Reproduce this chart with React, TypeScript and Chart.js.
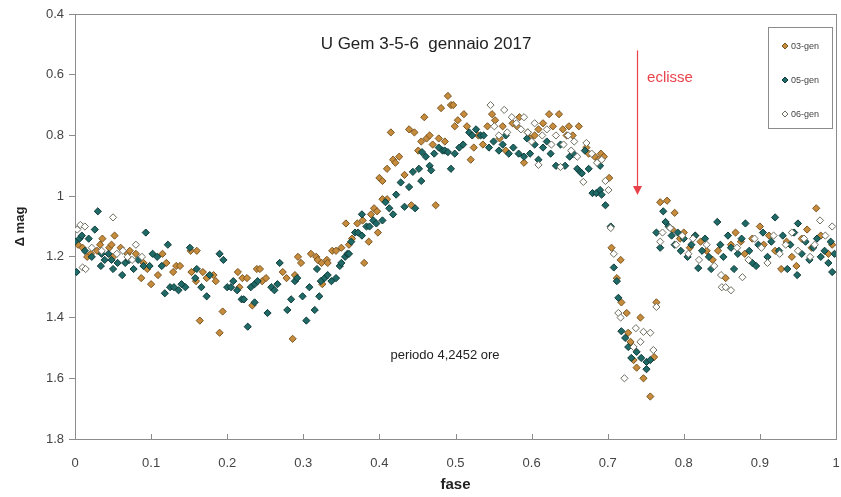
import React, { useEffect, useRef } from "react";
import { Chart, registerables } from "chart.js";

Chart.register(...registerables);

// ---- tick labels ----
const xTicks = [0, 0.1, 0.2, 0.3, 0.4, 0.5, 0.6, 0.7, 0.8, 0.9, 1];
const yTicks = [0.4, 0.6, 0.8, 1, 1.2, 1.4, 1.6, 1.8];

// ---- texts ----
const seriesNames = ["03-gen", "05-gen", "06-gen"];
const chartTitle = "U Gem 3-5-6  gennaio 2017";
const periodNote = "periodo 4,2452 ore";
const eclipseLabel = "eclisse";
const xTitle = "fase";
const yTitle = "\u0394 mag";

// eclipse arrow (fase, mag from -> to)
const eclipsePhase = 0.739;
const eclipseFrom = 0.52;
const eclipseTo = 0.996;

// ---- series: [fase, delta mag] ----
const gen03: [number, number][] = [
  [0.004, 1.16], [0.010, 1.17], [0.016, 1.20], [0.021, 1.19], [0.029, 1.18], [0.033, 1.16], [0.036, 1.14],
  [0.045, 1.17], [0.048, 1.16], [0.052, 1.13], [0.050, 1.20], [0.060, 1.17], [0.069, 1.19], [0.072, 1.18],
  [0.080, 1.19], [0.087, 1.27], [0.095, 1.24], [0.100, 1.29], [0.090, 1.22],
  [0.109, 1.26], [0.115, 1.19], [0.120, 1.22], [0.129, 1.25], [0.133, 1.23], [0.138, 1.23], [0.152, 1.18],
  [0.160, 1.18], [0.153, 1.25], [0.159, 1.28], [0.164, 1.41], [0.168, 1.25], [0.173, 1.27], [0.182, 1.26],
  [0.185, 1.28], [0.190, 1.45], [0.194, 1.38],
  [0.214, 1.25], [0.220, 1.27], [0.226, 1.27], [0.216, 1.30], [0.233, 1.36], [0.239, 1.24], [0.243, 1.24],
  [0.246, 1.28], [0.251, 1.27], [0.273, 1.25], [0.278, 1.27], [0.286, 1.47], [0.289, 1.26], [0.293, 1.20],
  [0.297, 1.22],
  [0.310, 1.19], [0.317, 1.20], [0.319, 1.21], [0.324, 1.22], [0.325, 1.29], [0.331, 1.21], [0.332, 1.22],
  [0.338, 1.18], [0.343, 1.18], [0.350, 1.17], [0.356, 1.09], [0.360, 1.16], [0.364, 1.14], [0.371, 1.09],
  [0.378, 1.08], [0.380, 1.22], [0.386, 1.15], [0.389, 1.06], [0.393, 1.04], [0.397, 1.05], [0.400, 0.94],
  [0.398, 1.12],
  [0.404, 1.01], [0.404, 0.95], [0.410, 0.91], [0.410, 1.01], [0.415, 0.79], [0.418, 0.88], [0.421, 0.89],
  [0.426, 0.87], [0.433, 0.93], [0.439, 0.78], [0.442, 1.03], [0.446, 0.79], [0.451, 0.85], [0.455, 0.82],
  [0.459, 0.74], [0.462, 0.81], [0.466, 0.80], [0.470, 0.83], [0.474, 1.03], [0.478, 0.81], [0.481, 0.71],
  [0.486, 0.82], [0.490, 0.67], [0.494, 0.70], [0.497, 0.70], [0.499, 0.77],
  [0.503, 0.75], [0.511, 0.73], [0.515, 0.77], [0.520, 0.88], [0.524, 0.84], [0.530, 0.80], [0.536, 0.83],
  [0.542, 0.77], [0.548, 0.73], [0.552, 0.75], [0.558, 0.81], [0.562, 0.77], [0.566, 0.85], [0.575, 0.76],
  [0.581, 0.77], [0.584, 0.74], [0.590, 0.89], [0.595, 0.79], [0.598, 0.81],
  [0.604, 0.80], [0.609, 0.78], [0.615, 0.76], [0.623, 0.73], [0.628, 0.77], [0.636, 0.73], [0.641, 0.78],
  [0.646, 0.80], [0.649, 0.77], [0.654, 0.80], [0.662, 0.77], [0.672, 0.84], [0.675, 0.86], [0.683, 0.87],
  [0.688, 0.88], [0.691, 0.86], [0.695, 0.87], [0.702, 0.94],
  [0.705, 1.17], [0.712, 1.27], [0.717, 1.21], [0.718, 1.35], [0.725, 1.385], [0.727, 1.45], [0.730, 1.48],
  [0.734, 1.54], [0.738, 1.565], [0.743, 1.40], [0.747, 1.60], [0.756, 1.66], [0.761, 1.53], [0.764, 1.35],
  [0.769, 1.02], [0.778, 1.015], [0.788, 1.055], [0.785, 1.11], [0.795, 1.14], [0.800, 1.12], [0.808, 1.17],
  [0.815, 1.13], [0.822, 1.15], [0.830, 1.18], [0.838, 1.21], [0.845, 1.18], [0.855, 1.27], [0.862, 1.16],
  [0.868, 1.12], [0.875, 1.15], [0.880, 1.19], [0.890, 1.14], [0.900, 1.10], [0.905, 1.16], [0.912, 1.13],
  [0.920, 1.18], [0.928, 1.24], [0.935, 1.15], [0.942, 1.20], [0.948, 1.23], [0.955, 1.14], [0.962, 1.11],
  [0.968, 1.17], [0.974, 1.04], [0.980, 1.13], [0.990, 1.19], [0.995, 1.16],
];

const gen05: [number, number][] = [
  [0.000, 1.15], [0.002, 1.25], [0.006, 1.14], [0.009, 1.13], [0.013, 1.18], [0.018, 1.14], [0.022, 1.20],
  [0.026, 1.11], [0.030, 1.05], [0.034, 1.23], [0.035, 1.19], [0.039, 1.21], [0.044, 1.19], [0.048, 1.21],
  [0.056, 1.22], [0.050, 1.24], [0.062, 1.26], [0.066, 1.22], [0.071, 1.21], [0.077, 1.24], [0.083, 1.21],
  [0.090, 1.23], [0.093, 1.12], [0.098, 1.23],
  [0.102, 1.19], [0.108, 1.20], [0.114, 1.23], [0.118, 1.32], [0.122, 1.16], [0.125, 1.30], [0.130, 1.30],
  [0.136, 1.31], [0.140, 1.29], [0.145, 1.30], [0.151, 1.17], [0.158, 1.27], [0.160, 1.24], [0.166, 1.30],
  [0.173, 1.33], [0.177, 1.26], [0.190, 1.19], [0.195, 1.21],
  [0.200, 1.30], [0.205, 1.30], [0.208, 1.28], [0.213, 1.31], [0.219, 1.34], [0.222, 1.34], [0.227, 1.43],
  [0.231, 1.30], [0.236, 1.29], [0.240, 1.28], [0.236, 1.35], [0.253, 1.385], [0.258, 1.30], [0.262, 1.31],
  [0.266, 1.29], [0.269, 1.22], [0.279, 1.375], [0.284, 1.34], [0.289, 1.28], [0.292, 1.27],
  [0.299, 1.33], [0.304, 1.41], [0.308, 1.30], [0.315, 1.375], [0.318, 1.24], [0.321, 1.33], [0.323, 1.28],
  [0.328, 1.27], [0.332, 1.26], [0.337, 1.28], [0.343, 1.27], [0.348, 1.23], [0.350, 1.22], [0.355, 1.20],
  [0.358, 1.19], [0.360, 1.19], [0.363, 1.15], [0.368, 1.12], [0.372, 1.12], [0.377, 1.13], [0.383, 1.10],
  [0.387, 1.10], [0.377, 1.06], [0.392, 1.08], [0.396, 1.09],
  [0.404, 1.08], [0.408, 1.02], [0.413, 1.04], [0.418, 1.06], [0.422, 0.995], [0.428, 0.955], [0.433, 1.035],
  [0.439, 0.97], [0.444, 0.92], [0.447, 1.04], [0.452, 0.91], [0.455, 0.95], [0.456, 0.855], [0.461, 0.87],
  [0.466, 0.90], [0.468, 0.915], [0.472, 0.86], [0.478, 0.84], [0.483, 0.85], [0.486, 0.85], [0.490, 0.855],
  [0.494, 0.91], [0.499, 0.86],
  [0.505, 0.84], [0.510, 0.83], [0.518, 0.79], [0.522, 0.80], [0.527, 0.78], [0.533, 0.80], [0.537, 0.80],
  [0.544, 0.84], [0.550, 0.82], [0.557, 0.85], [0.562, 0.83], [0.566, 0.80], [0.570, 0.86], [0.576, 0.84],
  [0.583, 0.86], [0.590, 0.87], [0.594, 0.81], [0.598, 0.86],
  [0.604, 0.83], [0.609, 0.88], [0.615, 0.84], [0.620, 0.82], [0.625, 0.86], [0.632, 0.90], [0.638, 0.83],
  [0.644, 0.90], [0.650, 0.87], [0.655, 0.86], [0.660, 0.91], [0.664, 0.92], [0.666, 0.925], [0.670, 0.85],
  [0.675, 0.91], [0.680, 0.99], [0.685, 0.99], [0.690, 0.98], [0.692, 0.995], [0.697, 1.03], [0.690, 0.90],
  [0.704, 1.10], [0.708, 1.235], [0.712, 1.28], [0.714, 1.335], [0.718, 1.445], [0.723, 1.467], [0.727, 1.497],
  [0.731, 1.533], [0.738, 1.513], [0.744, 1.533], [0.751, 1.546], [0.751, 1.57], [0.756, 1.54],
  [0.764, 1.12], [0.769, 1.17], [0.773, 1.05], [0.776, 1.085], [0.780, 1.10], [0.784, 1.13], [0.788, 1.16],
  [0.792, 1.12], [0.796, 1.18], [0.800, 1.14], [0.805, 1.20], [0.810, 1.16], [0.815, 1.13], [0.819, 1.237],
  [0.824, 1.18], [0.828, 1.14], [0.833, 1.20], [0.836, 1.24], [0.844, 1.085], [0.848, 1.16], [0.852, 1.20],
  [0.858, 1.13], [0.862, 1.17], [0.866, 1.24], [0.871, 1.19], [0.876, 1.14], [0.881, 1.09], [0.886, 1.18],
  [0.890, 1.22], [0.895, 1.23], [0.898, 1.16], [0.904, 1.12], [0.910, 1.20], [0.915, 1.15], [0.920, 1.07],
  [0.925, 1.18], [0.930, 1.13], [0.936, 1.24], [0.940, 1.16], [0.945, 1.12], [0.950, 1.09], [0.949, 1.26],
  [0.955, 1.19], [0.960, 1.15], [0.965, 1.21], [0.970, 1.17], [0.975, 1.14], [0.980, 1.20], [0.985, 1.18],
  [0.990, 1.22], [0.993, 1.15], [0.998, 1.19], [0.995, 1.25],
];

const gen06: [number, number][] = [
  [0.003, 1.11], [0.007, 1.095], [0.013, 1.10], [0.010, 1.235], [0.014, 1.24], [0.050, 1.07], [0.022, 1.17],
  [0.035, 1.18], [0.055, 1.19], [0.063, 1.18], [0.069, 1.20], [0.075, 1.21], [0.080, 1.16], [0.088, 1.20],
  [0.546, 0.70], [0.551, 0.77], [0.557, 0.80], [0.564, 0.716], [0.568, 0.79], [0.574, 0.74], [0.580, 0.76],
  [0.586, 0.78], [0.590, 0.74], [0.595, 0.79], [0.600, 0.82], [0.604, 0.76], [0.609, 0.897], [0.614, 0.80],
  [0.620, 0.78], [0.626, 0.83], [0.632, 0.80], [0.638, 0.904], [0.642, 0.83], [0.648, 0.80], [0.652, 0.85],
  [0.656, 0.82], [0.660, 0.87], [0.668, 0.953], [0.672, 0.825], [0.679, 0.86], [0.686, 0.89], [0.692, 0.88],
  [0.697, 0.95], [0.701, 0.98],
  [0.704, 1.105], [0.708, 1.19], [0.714, 1.385], [0.717, 1.40], [0.722, 1.60], [0.734, 1.497], [0.737, 1.435],
  [0.743, 1.48], [0.747, 1.447], [0.756, 1.45], [0.760, 1.507], [0.764, 1.365],
  [0.769, 1.15], [0.772, 1.12], [0.782, 1.105], [0.790, 1.16], [0.798, 1.13], [0.806, 1.19], [0.812, 1.14],
  [0.820, 1.21], [0.830, 1.16], [0.840, 1.23], [0.849, 1.26], [0.850, 1.30], [0.855, 1.30], [0.862, 1.31],
  [0.870, 1.17], [0.877, 1.267], [0.885, 1.21], [0.893, 1.14], [0.902, 1.17], [0.910, 1.22], [0.918, 1.13],
  [0.926, 1.19], [0.934, 1.16], [0.942, 1.12], [0.950, 1.18], [0.958, 1.14], [0.966, 1.20], [0.972, 1.16],
  [0.979, 1.08], [0.986, 1.13], [0.995, 1.10],
];

const FONT = "'Liberation Sans', Arial, sans-serif";

const seriesStyle = [
  { fill: "#c68c3c", stroke: "#7a5522" },
  { fill: "#1f6a66", stroke: "#0e3b39" },
  { fill: "#ffffff", stroke: "#6e6e60" },
];

function drawDiamond(ctx: CanvasRenderingContext2D, x: number, y: number, r: number, fill: string, stroke: string) {
  ctx.beginPath();
  ctx.moveTo(x, y - r);
  ctx.lineTo(x + r, y);
  ctx.lineTo(x, y + r);
  ctx.lineTo(x - r, y);
  ctx.closePath();
  ctx.fillStyle = fill;
  ctx.fill();
  ctx.lineWidth = 1;
  ctx.strokeStyle = stroke;
  ctx.stroke();
}

export default function App() {
  const ref = useRef<HTMLCanvasElement>(null);

  useEffect(() => {
    document.body.style.margin = "0";
    const canvas = ref.current;
    if (!canvas) return;
    const toPts = (a: [number, number][]) => a.map(([x, y]) => ({ x, y }));

    const overlay = {
      id: "overlay",
      beforeDatasetsDraw(chart: any) {
        const { ctx, chartArea } = chart;
        const { left, right, top, bottom } = chartArea;
        const xs = chart.scales.x;
        ctx.save();
        ctx.strokeStyle = "#8c8c8c";
        ctx.lineWidth = 1;
        ctx.strokeRect(Math.round(left) + 0.5, Math.round(top) + 0.5, Math.round(right - left), Math.round(bottom - top));
        // inside ticks on x axis
        ctx.beginPath();
        for (const v of xTicks) {
          const px = Math.round(xs.getPixelForValue(v)) + 0.5;
          ctx.moveTo(px, bottom);
          ctx.lineTo(px, bottom - 5);
        }
        ctx.stroke();
        ctx.restore();
      },
      afterDatasetsDraw(chart: any) {
        const { ctx } = chart;
        const xs = chart.scales.x;
        const ys = chart.scales.y;
        ctx.save();
        // title
        ctx.fillStyle = "#222";
        ctx.font = `17px ${FONT}`;
        ctx.textAlign = "center";
        ctx.textBaseline = "middle";
        ctx.fillText(chartTitle, 426, 44);
        // period note
        ctx.font = `13px ${FONT}`;
        ctx.fillStyle = "#222";
        ctx.fillText(periodNote, 445, 355);
        // eclipse arrow
        const ax = Math.round(xs.getPixelForValue(eclipsePhase)) + 0.5;
        const ay0 = ys.getPixelForValue(eclipseFrom);
        const ay1 = ys.getPixelForValue(eclipseTo);
        ctx.strokeStyle = "#e8434b";
        ctx.fillStyle = "#e8434b";
        ctx.lineWidth = 1.2;
        ctx.beginPath();
        ctx.moveTo(ax, ay0);
        ctx.lineTo(ax, ay1 - 8);
        ctx.stroke();
        ctx.beginPath();
        ctx.moveTo(ax - 4.5, ay1 - 9);
        ctx.lineTo(ax + 4.5, ay1 - 9);
        ctx.lineTo(ax, ay1);
        ctx.closePath();
        ctx.fill();
        ctx.font = `15px ${FONT}`;
        ctx.fillStyle = "#e8434b";
        ctx.fillText(eclipseLabel, 670, 78);
        // legend
        ctx.fillStyle = "#ffffff";
        ctx.fillRect(768, 27, 64, 101);
        ctx.strokeStyle = "#8c8c8c";
        ctx.lineWidth = 1;
        ctx.strokeRect(768.5, 27.5, 64, 101);
        ctx.font = `9px ${FONT}`;
        ctx.textAlign = "left";
        seriesNames.forEach((name, i) => {
          const y = 46 + i * 34;
          drawDiamond(ctx, 785, y, 3, seriesStyle[i].fill, seriesStyle[i].stroke);
          ctx.fillStyle = "#444";
          ctx.fillText(name, 791, y + 0.5);
        });
        ctx.restore();
      },
    };

    const mk = (label: string, pts: [number, number][], i: number, order: number) => ({
      label,
      data: toPts(pts),
      pointStyle: "rectRot" as const,
      pointRadius: 3.6,
      pointBorderWidth: 1,
      pointBackgroundColor: seriesStyle[i].fill,
      pointBorderColor: seriesStyle[i].stroke,
      backgroundColor: seriesStyle[i].fill,
      borderColor: seriesStyle[i].stroke,
      order,
    });

    const chart = new Chart(canvas, {
      type: "scatter",
      data: {
        datasets: [
          mk(seriesNames[0], gen03, 0, 2),
          mk(seriesNames[1], gen05, 1, 1),
          mk(seriesNames[2], gen06, 2, 0),
        ],
      },
      options: {
        animation: false,
        responsive: false,
        events: [],
        layout: { padding: { top: 14, right: 3, left: 0, bottom: 0 } },
        plugins: { legend: { display: false }, tooltip: { enabled: false } },
        scales: {
          x: {
            type: "linear",
            min: 0,
            max: 1,
            afterFit: (s: any) => { s.height = 58; s.paddingLeft = 0; s.paddingRight = 0; },
            afterBuildTicks: (s: any) => { s.ticks = xTicks.map((v) => ({ value: v })); },
            grid: { display: true, drawOnChartArea: false, drawTicks: false, color: "#8c8c8c" },
            border: { display: false },
            ticks: {
              padding: 17,
              color: "#444",
              font: { family: FONT, size: 13 },
              maxRotation: 0,
              autoSkip: false,
              callback: (v: any) => String(v),
            },
            title: {
              display: true,
              text: xTitle,
              color: "#222",
              font: { family: FONT, size: 15, weight: "bold" },
              padding: { top: 0, bottom: 3 },
            },
          },
          y: {
            type: "linear",
            min: 0.4,
            max: 1.8,
            reverse: true,
            afterFit: (s: any) => { s.width = 75; s.paddingTop = 0; s.paddingBottom = 0; },
            afterBuildTicks: (s: any) => { s.ticks = yTicks.map((v) => ({ value: v })); },
            grid: { display: true, drawOnChartArea: false, drawTicks: true, tickLength: 6, color: "#8c8c8c" },
            border: { display: false },
            ticks: {
              padding: 5,
              color: "#444",
              font: { family: FONT, size: 13 },
              autoSkip: false,
              callback: (v: any) => String(v),
            },
            title: {
              display: true,
              text: yTitle,
              color: "#222",
              font: { family: FONT, size: 13, weight: "bold" },
              padding: { top: 13, bottom: 4 },
            },
          },
        },
      },
      plugins: [overlay],
    } as any);

    return () => chart.destroy();
  }, []);

  return (
    <div style={{ position: "absolute", left: 0, top: 0, width: 841, height: 497 }}>
      <canvas ref={ref} width={841} height={497} style={{ display: "block", width: 841, height: 497 }} />
    </div>
  );
}
